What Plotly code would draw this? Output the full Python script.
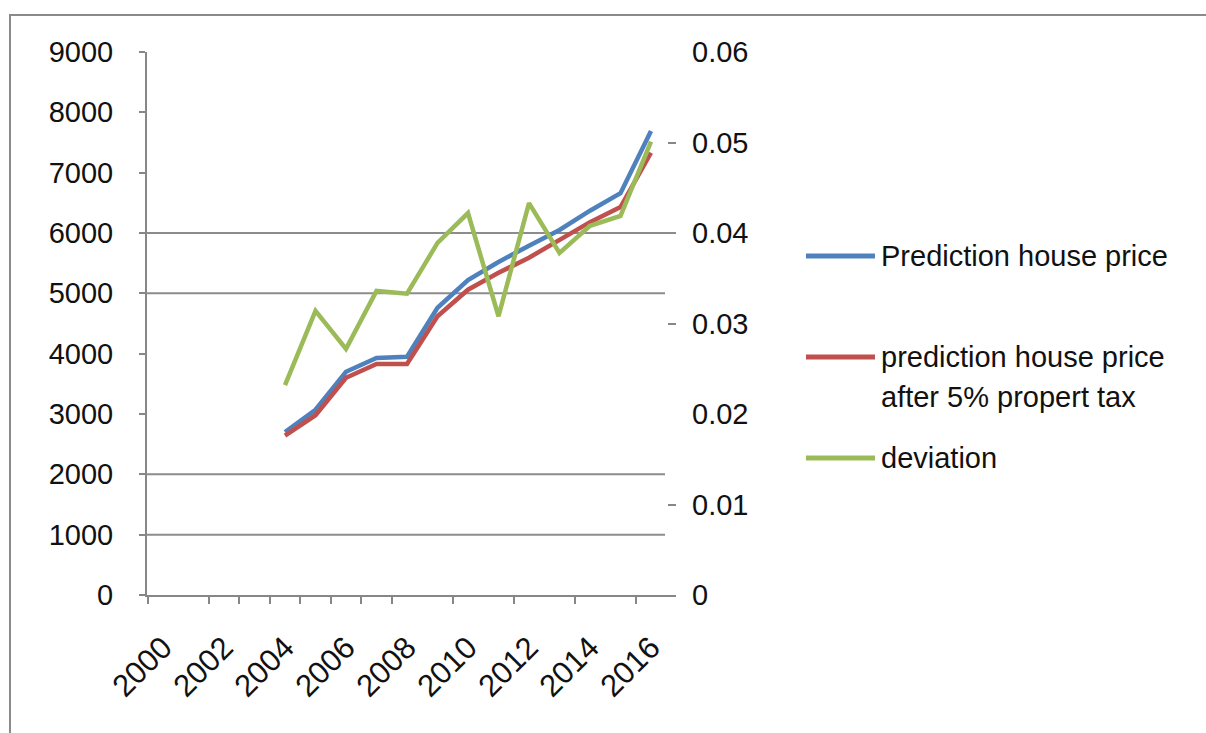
import plotly.graph_objects as go

# ---------------- data ----------------
years = list(range(2004, 2017))
prediction_price = [2700, 3070, 3700, 3930, 3950, 4760, 5220, 5520, 5790, 6050, 6370, 6660, 7690]
price_after_tax = [2640, 2980, 3600, 3830, 3830, 4620, 5060, 5340, 5590, 5880, 6180, 6430, 7330]
deviation = [0.0232, 0.0314, 0.0272, 0.0336, 0.0333, 0.0389, 0.0422, 0.0308, 0.0433, 0.0378, 0.0408, 0.0419, 0.0501]

x_label_years = [2000, 2002, 2004, 2006, 2008, 2010, 2012, 2014, 2016]
left_ticks = list(range(0, 10000, 1000))
right_ticks = [0, 0.01, 0.02, 0.03, 0.04, 0.05, 0.06]
right_ticktext = ["0", "0.01", "0.02", "0.03", "0.04", "0.05", "0.06"]
grid_values = [1000, 2000, 5000, 6000]

series_names = ["Prediction house price",
                "prediction house price after 5% propert tax",
                "deviation"]
colors = ["#4F81BD", "#C0504D", "#9BBB59"]

# ---------------- layout geometry (pixels) ----------------
W, H = 1206, 733
L, R, T, B = 147, 676, 52, 595
pw, ph = R - L, B - T

def px_x(px):
    return (px - L) / pw

def px_y(py):
    return (B - py) / ph

FONT = "Liberation Sans, Arial, sans-serif"
FS = 29
AXIS_COLOR = "#878787"

fig = go.Figure()
fig.add_trace(go.Scatter(x=years, y=prediction_price, mode="lines", name=series_names[0],
                         line=dict(color=colors[0], width=4.5), showlegend=False))
fig.add_trace(go.Scatter(x=years, y=price_after_tax, mode="lines", name=series_names[1],
                         line=dict(color=colors[1], width=4.5), showlegend=False))
fig.add_trace(go.Scatter(x=years, y=deviation, mode="lines", name=series_names[2],
                         line=dict(color=colors[2], width=4.5), showlegend=False, yaxis="y2"))

shapes = []
# gridlines (only some drawn in the original)
for g in grid_values:
    shapes.append(dict(type="line", xref="paper", yref="y", x0=0, x1=px_x(676 if g == 6000 else 665),
                       y0=g, y1=g, line=dict(color="#8C8C8C", width=2), layer="below"))
# outer chart border (top and left edges visible)
shapes.append(dict(type="rect", xref="paper", yref="paper",
                   x0=px_x(10), x1=px_x(1240), y0=px_y(760), y1=px_y(15),
                   line=dict(color="#8A8A8A", width=2), fillcolor="rgba(0,0,0,0)"))

# manual legend
legend_line_y = [256, 357, 458]
for c, ly in zip(colors, legend_line_y):
    shapes.append(dict(type="line", xref="paper", yref="paper",
                       x0=px_x(806), x1=px_x(875), y0=px_y(ly), y1=px_y(ly),
                       line=dict(color=c, width=5)))

legend_texts = [("Prediction house price", 256),
                ("prediction house price", 357),
                ("after 5% propert tax", 397),
                ("deviation", 458)]
annotations = []
for txt, ty in legend_texts:
    annotations.append(dict(text=txt, xref="paper", yref="paper", x=px_x(879), y=px_y(ty),
                            xanchor="left", yanchor="middle", showarrow=False,
                            font=dict(family=FONT, size=FS, color="#111111")))

fig.update_layout(
    width=W, height=H,
    margin=dict(l=L, r=W - R, t=T, b=H - B),
    paper_bgcolor="white", plot_bgcolor="white",
    font=dict(family=FONT, size=FS, color="#111111"),
    showlegend=False,
    shapes=shapes,
    annotations=annotations,
    xaxis=dict(
        range=[2000 - 16 / 30.5, 2000 - 16 / 30.5 + pw / 30.5],
        tickvals=x_label_years, ticktext=[str(v) for v in x_label_years],
        tickangle=-45, ticks="", showgrid=False, zeroline=False,
        showline=True, linecolor=AXIS_COLOR, linewidth=2,
        ticklabelstandoff=20, tickfont=dict(size=31),
        minor=dict(tickvals=[1999.5, 2001.5, 2002.5, 2003.5, 2004.5, 2005.5, 2006.5, 2007.5,
                             2009.5, 2011.5, 2013.5, 2015.5],
                   ticks="outside", ticklen=7, tickwidth=2, tickcolor=AXIS_COLOR, showgrid=False),
    ),
    yaxis=dict(
        range=[0, 9000], tickvals=left_ticks, ticks="outside", ticklen=6, tickwidth=2,
        tickcolor=AXIS_COLOR, showgrid=False, zeroline=False,
        showline=True, linecolor=AXIS_COLOR, linewidth=2, ticklabelstandoff=20,
    ),
    yaxis2=dict(
        range=[0, 0.06], overlaying="y", side="right",
        tickvals=right_ticks, ticktext=right_ticktext, ticks="",
        showgrid=False, zeroline=False, showline=False, ticklabelstandoff=15,
        minor=dict(tickvals=[0.01, 0.03, 0.05], ticks="inside", ticklen=8, tickwidth=2,
                   tickcolor=AXIS_COLOR, showgrid=False),
    ),
)

fig.write_html("out.html", config={"displayModeBar": False},
               post_script="document.body.style.margin='0';")
